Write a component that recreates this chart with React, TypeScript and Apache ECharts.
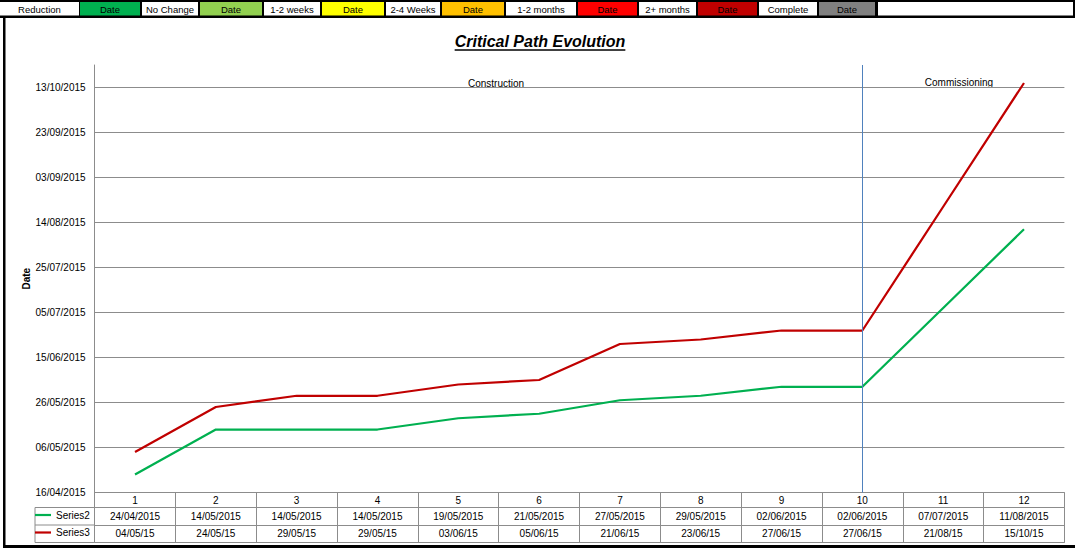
import React, { useEffect, useRef } from 'react';
import * as echarts from 'echarts';

// ---------------- data ----------------
const categories = ['1', '2', '3', '4', '5', '6', '7', '8', '9', '10', '11', '12'];
const series2Name = 'Series2';
const series3Name = 'Series3';
const series2Dates = [
  '24/04/2015', '14/05/2015', '14/05/2015', '14/05/2015', '19/05/2015', '21/05/2015',
  '27/05/2015', '29/05/2015', '02/06/2015', '02/06/2015', '07/07/2015', '11/08/2015',
];
const series3Dates = [
  '04/05/15', '24/05/15', '29/05/15', '29/05/15', '03/06/15', '05/06/15',
  '21/06/15', '23/06/15', '27/06/15', '27/06/15', '21/08/15', '15/10/15',
];
const axisStartDate = '16/04/2015';
const axisEndDate = '23/10/2015';
const tickStepDays = 20;
const phaseDividerCategory = '10';
const phaseLabels = ['Construction', 'Commissioning'];
const titleText = 'Critical Path Evolution';
const yAxisTitle = 'Date';

const keyLabels = [
  'Reduction', 'Date', 'No Change', 'Date', '1-2 weeks', 'Date', '2-4 Weeks', 'Date',
  '1-2 months', 'Date', '2+ months', 'Date', 'Complete', 'Date', '',
];
const keyColors = [
  '#ffffff', '#00B050', '#ffffff', '#92D050', '#ffffff', '#FFFF00', '#ffffff', '#FFC000',
  '#ffffff', '#FF0000', '#ffffff', '#C00000', '#ffffff', '#808080', '#ffffff',
];

// ---------------- layout (not data) ----------------
const keyCellBounds: [number, number][] = [
  [0, 79], [80, 140], [142, 198], [200, 262], [264, 320], [322, 384], [386, 440], [442, 504],
  [506, 576], [578, 637], [639, 696], [698, 757], [759, 817], [819, 875], [878, 1073],
];

const FONT = '"Liberation Sans", Arial, sans-serif';
const GRID_LEFT = 94.6;
const GRID_RIGHT = 10.6;
const GRID_TOP = 65;
const GRID_BOTTOM = 56.5;
const W = 1075;
const H = 549;
const PLOT_BOTTOM = H - GRID_BOTTOM;
const ROW1 = 15;
const ROW2 = 32.5;
const ROW3 = 50;
const TABLE_COLOR = '#8c8c8c';

const DAY = 86400000;
function toUTC(s: string): number {
  const [d, m, y] = s.split('/').map(Number);
  const yr = y < 100 ? 2000 + y : y;
  return Date.UTC(yr, m - 1, d);
}
const base = toUTC(axisStartDate);
const toDays = (s: string) => Math.round((toUTC(s) - base) / DAY);
const pad = (n: number) => (n < 10 ? '0' + n : '' + n);
function fmtDate(v: number): string {
  const dt = new Date(base + Math.round(v) * DAY);
  return pad(dt.getUTCDate()) + '/' + pad(dt.getUTCMonth() + 1) + '/' + dt.getUTCFullYear();
}

function measure(text: string, font: string): number {
  const c = document.createElement('canvas').getContext('2d');
  if (!c) return text.length * 8;
  c.font = font;
  return c.measureText(text).width;
}

export default function App() {
  const ref = useRef<HTMLDivElement>(null);

  useEffect(() => {
    if (!ref.current) return;
    const chart = echarts.init(ref.current, undefined, { renderer: 'svg' });

    const lineStyle = { color: TABLE_COLOR, width: 1 };
    const labelBase = { interval: 0, fontSize: 10, color: '#000', fontFamily: FONT, verticalAlign: 'middle' as const };

    const graphics: any[] = [];
    // key strip background
    graphics.push({ type: 'rect', shape: { x: 0, y: 0, width: W, height: 18 }, style: { fill: '#000' }, silent: true });
    keyLabels.forEach((lab, i) => {
      const [x0, x1] = keyCellBounds[i];
      graphics.push({ type: 'rect', shape: { x: x0, y: 2, width: x1 - x0, height: 13.5 }, style: { fill: keyColors[i] }, silent: true });
      if (lab) {
        graphics.push({
          type: 'text', x: (x0 + x1) / 2, y: 9,
          style: { text: lab, fill: '#000', font: `9.5px ${FONT}`, align: 'center', verticalAlign: 'middle' },
          silent: true,
        });
      }
    });
    // chart frame (left + bottom borders)
    graphics.push({ type: 'rect', shape: { x: 3, y: 16, width: 2.5, height: 532 }, style: { fill: '#000' }, silent: true });
    graphics.push({ type: 'rect', shape: { x: 3, y: 545, width: W - 3, height: 3 }, style: { fill: '#000' }, silent: true });

    // title + underline
    const titleFont = `italic bold 16px ${FONT}`;
    const tw = measure(titleText, titleFont);
    graphics.push({
      type: 'text', x: 540, y: 41,
      style: { text: titleText, fill: '#000', font: titleFont, align: 'center', verticalAlign: 'middle' },
      silent: true,
    });
    graphics.push({
      type: 'line', shape: { x1: 540 - tw / 2, y1: 50, x2: 540 + tw / 2, y2: 50 },
      style: { stroke: '#000', lineWidth: 1.5 }, silent: true,
    });

    // phase labels
    graphics.push({
      type: 'text', x: 496, y: 83,
      style: { text: phaseLabels[0], fill: '#000', font: `10px ${FONT}`, align: 'center', verticalAlign: 'middle' },
      silent: true,
    });
    graphics.push({
      type: 'text', x: 959, y: 82,
      style: { text: phaseLabels[1], fill: '#000', font: `10px ${FONT}`, align: 'center', verticalAlign: 'middle' },
      silent: true,
    });

    // series-name column of the data table
    const colL = 35;
    [ROW1, ROW2, ROW3].forEach((off) => {
      graphics.push({
        type: 'line', shape: { x1: colL, y1: PLOT_BOTTOM + off, x2: GRID_LEFT, y2: PLOT_BOTTOM + off },
        style: { stroke: TABLE_COLOR, lineWidth: 1 }, silent: true,
      });
    });
    graphics.push({
      type: 'line', shape: { x1: colL, y1: PLOT_BOTTOM + ROW1, x2: colL, y2: PLOT_BOTTOM + ROW3 },
      style: { stroke: TABLE_COLOR, lineWidth: 1 }, silent: true,
    });

    const s2 = series2Dates.map(toDays);
    const s3 = series3Dates.map(toDays);

    chart.setOption({
      animation: false,
      backgroundColor: '#fff',
      grid: { left: GRID_LEFT, right: GRID_RIGHT, top: GRID_TOP, bottom: GRID_BOTTOM, containLabel: false },
      legend: [
        {
          data: [series2Name], left: 35, top: PLOT_BOTTOM + ROW1 + 2.5, padding: 0,
          icon: 'rect', itemWidth: 16, itemHeight: 2.2,
          textStyle: { fontSize: 10, fontFamily: FONT, color: '#000' }, selectedMode: false,
        },
        {
          data: [series3Name], left: 35, top: PLOT_BOTTOM + ROW2 + 2.5, padding: 0,
          icon: 'rect', itemWidth: 16, itemHeight: 2.2,
          textStyle: { fontSize: 10, fontFamily: FONT, color: '#000' }, selectedMode: false,
        },
      ],
      xAxis: [
        {
          type: 'category', data: categories, position: 'bottom', boundaryGap: true,
          axisLine: { show: true, lineStyle },
          axisTick: { show: true, interval: 0, length: ROW1, lineStyle },
          axisLabel: { ...labelBase, margin: ROW1 / 2 },
          splitLine: { show: false },
        },
        {
          type: 'category', data: categories, position: 'bottom', offset: ROW1, boundaryGap: true,
          axisLine: { show: true, lineStyle },
          axisTick: { show: true, interval: 0, length: ROW2 - ROW1, lineStyle },
          axisLabel: { ...labelBase, margin: (ROW2 - ROW1) / 2, formatter: (_v: string, i: number) => series2Dates[i] },
          splitLine: { show: false },
        },
        {
          type: 'category', data: categories, position: 'bottom', offset: ROW2, boundaryGap: true,
          axisLine: { show: true, lineStyle },
          axisTick: { show: true, interval: 0, length: ROW3 - ROW2, lineStyle },
          axisLabel: { ...labelBase, margin: (ROW3 - ROW2) / 2, formatter: (_v: string, i: number) => series3Dates[i] },
          splitLine: { show: false },
        },
        {
          type: 'category', data: categories, position: 'bottom', offset: ROW3, boundaryGap: true,
          axisLine: { show: true, lineStyle },
          axisTick: { show: false },
          axisLabel: { show: false },
          splitLine: { show: false },
        },
      ],
      yAxis: {
        type: 'value',
        min: 0,
        max: toDays(axisEndDate),
        interval: tickStepDays,
        name: yAxisTitle,
        nameLocation: 'middle',
        nameGap: 63,
        nameRotate: 90,
        nameMoveOverlap: false,
        nameTextStyle: { fontSize: 10, fontWeight: 'bold', fontFamily: FONT, color: '#000' },
        axisLine: { show: true, lineStyle: { color: TABLE_COLOR, width: 1 } },
        axisTick: { show: false },
        axisLabel: {
          fontSize: 10, color: '#000', fontFamily: FONT, margin: 9,
          showMaxLabel: false, formatter: (v: number) => fmtDate(v),
        },
        splitLine: { show: true, showMaxLine: false, showMinLine: false, lineStyle: { color: TABLE_COLOR, width: 1 } },
      },
      series: [
        {
          name: series2Name, type: 'line', data: s2, symbol: 'none', xAxisIndex: 0, yAxisIndex: 0,
          lineStyle: { color: '#00B050', width: 2.25 }, itemStyle: { color: '#00B050' },
          markLine: {
            silent: true, symbol: ['none', 'none'], label: { show: false },
            lineStyle: { color: '#4F81BD', width: 1, type: 'solid' },
            data: [{ xAxis: phaseDividerCategory }],
          },
        },
        {
          name: series3Name, type: 'line', data: s3, symbol: 'none', xAxisIndex: 0, yAxisIndex: 0,
          lineStyle: { color: '#C00000', width: 2.25 }, itemStyle: { color: '#C00000' },
        },
      ],
      graphic: graphics,
    });

    return () => chart.dispose();
  }, []);

  return <div ref={ref} style={{ position: 'absolute', left: 0, top: 0, width: W, height: H }} />;
}
